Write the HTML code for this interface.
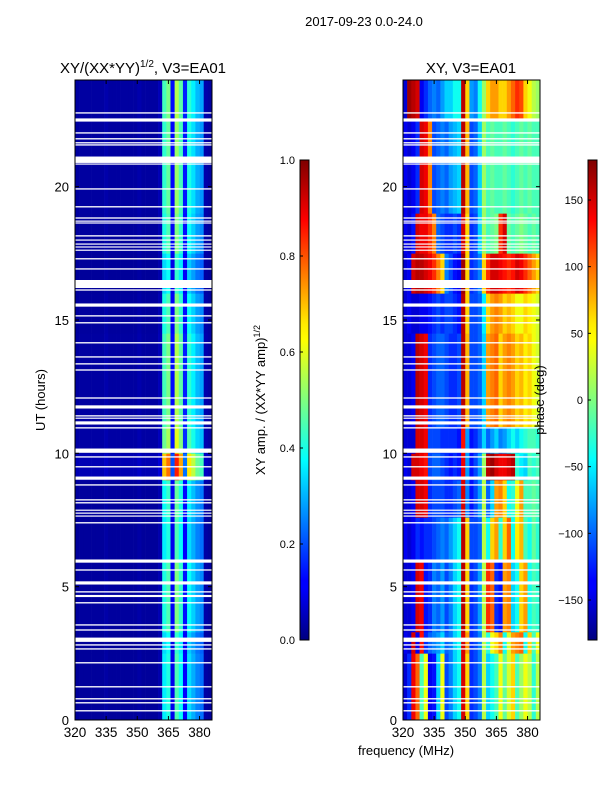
<!DOCTYPE html>
<html><head><meta charset="utf-8"><style>
body{margin:0;background:#fff;}
svg text{font-family:"Liberation Sans",sans-serif;fill:#000;}
</style></head><body>
<svg id="fig" width="600" height="800" xmlns="http://www.w3.org/2000/svg">
<defs>
<linearGradient id="jet" x1="0" y1="1" x2="0" y2="0">
<stop offset="0" stop-color="#00007f"/><stop offset="0.11" stop-color="#0000ff"/><stop offset="0.125" stop-color="#0000ff"/>
<stop offset="0.34" stop-color="#00dcff"/><stop offset="0.375" stop-color="#00ffff"/><stop offset="0.5" stop-color="#7fff7f"/>
<stop offset="0.625" stop-color="#ffff00"/><stop offset="0.66" stop-color="#ffea00"/><stop offset="0.875" stop-color="#ff0000"/><stop offset="1" stop-color="#7f0000"/>
</linearGradient>
</defs>
<text x="364" y="26" font-size="13" text-anchor="middle">2017-09-23 0.0-24.0</text>
<text x="143" y="73" font-size="15" text-anchor="middle">XY/(XX*YY)<tspan font-size="10" dy="-6">1/2</tspan><tspan dy="6">, V3=EA01</tspan></text>
<text x="471" y="73" font-size="15" text-anchor="middle">XY, V3=EA01</text>
<text transform="translate(45,400) rotate(-90)" font-size="13" text-anchor="middle">UT (hours)</text>
<text x="406" y="755" font-size="13" text-anchor="middle">frequency (MHz)</text>
<text transform="translate(265,400) rotate(-90)" font-size="13" text-anchor="middle">XY amp. / (XX*YY amp)<tspan font-size="9" dy="-5">1/2</tspan></text>
<g id="amp"></g>
<g id="ph"></g>
<g id="axes"></g>
<text transform="translate(544,400) rotate(-90)" font-size="13" text-anchor="middle">phase (deg)</text>
</svg>
<script>
// frequency bins (MHz, 2 MHz wide starting 320)
const freqBins=[320,322,324,326,328,330,332,334,336,338,340,342,344,346,348,350,352,354,356,358,360,362,364,366,368,370,372,374,376,378,380,382,384];
// time segments (hours)
const segStart=[0,2.5,3.3,6,7.6,9,10,11,14.5,16,17.5,19,22.5];
const segEnd=[2.5,3.3,6,7.6,9,10,11,14.5,16,17.5,19,22.5,24];
// amplitude frequency profile
const ampProfile=[0.03,0.03,0.03,0.03,0.03,0.03,0.03,0.04,0.03,0.03,0.03,0.03,0.03,0.03,0.03,0.04,0.03,0.03,0.03,0.03,0.05,0.4,0.45,0.12,0.5,0.42,0.14,0.38,0.33,0.28,0.26,0.04,0.03];
// amplitude time factor per segment
const ampSeg=[0.9,0.85,1.0,0.9,0.95,1.7,1.2,1.1,1.0,0.85,1.0,1.05,1.1];
// phase (deg) per segment per freq bin
const phaseSeg=[
[-150,-120,140,100,-20,40,-140,-130,-60,40,-110,-90,-60,-40,150,60,-120,-110,-90,20,-60,-40,-20,40,-10,30,60,-20,10,40,20,-30,20],
[-140,-150,150,-140,130,-120,-100,-90,-80,-60,-100,-90,-60,-40,150,80,-120,-110,-90,20,-30,40,60,90,-40,30,80,90,100,-40,60,-20,40],
[-150,-150,-140,150,140,-130,-120,-90,-100,-80,-110,-90,-60,-40,160,60,-120,-110,-80,20,120,100,-120,-130,80,90,-60,-40,60,80,-40,-20,-30],
[-140,-150,-140,-120,-130,-120,-120,-110,-100,-90,-100,-80,-60,-40,160,60,-110,-110,-100,20,-40,60,80,-30,60,100,-40,50,70,-20,-40,-10,-30],
[-150,-150,-140,150,150,140,-120,-110,-110,-110,-120,-120,-110,-100,150,-90,-130,-110,-80,20,-100,-60,80,90,60,-40,-30,40,80,-20,-20,-10,-20],
[-140,-150,150,150,140,130,-110,-100,-100,-110,-120,-130,-120,-130,140,-80,-130,-110,-80,10,160,170,150,140,140,150,160,-30,-50,-60,-20,-30,-20],
[-150,-150,-150,150,150,140,-110,-110,-110,-120,-120,-120,-120,-130,130,-80,-130,-120,-100,-60,-100,-80,-60,-90,-80,-60,-40,-60,-40,-30,-20,-20,-30],
[-150,-150,-140,160,150,140,-120,-110,-100,-100,-110,-120,-120,-110,160,70,-110,-110,-100,-60,80,90,100,60,80,90,80,60,70,50,60,40,30],
[-150,-140,-150,-150,-140,-140,-130,-120,-110,-120,-110,-110,-120,-130,160,60,-110,-110,-100,-50,60,80,90,80,60,70,60,40,40,60,50,40,30],
[-150,-140,150,160,160,150,140,120,90,60,-90,-110,-130,-140,170,60,-120,-110,-90,60,120,150,150,140,130,120,130,150,140,120,100,80,60],
[-140,-150,-130,150,140,140,120,90,-100,-110,-120,-120,-110,-120,150,60,-120,-110,-60,10,-20,-10,0,120,150,-10,-20,-10,0,-10,-20,-10,-20],
[-140,-150,-140,-120,150,140,90,-110,-100,-90,-100,-80,-70,-60,160,70,-110,-100,-60,10,-20,-10,-20,-20,-10,-20,-30,-20,-10,-20,-10,-20,-20],
[-150,170,160,150,-140,-120,-100,-90,-100,-80,-60,-60,-40,-40,160,60,-80,-90,-40,10,60,80,80,60,60,80,100,120,110,60,40,20,10]
];
// data gaps (hours, duration)
const gapStart=[22.74,22.44,21.99,21.77,21.62,21.54,20.89,20.83,19.89,19.22,18.8,18.69,18.62,18.13,17.98,17.83,17.72,17.6,17.27,16.89,16.2,16.1,15.5,15.13,14.87,14.12,13.59,13.33,13.1,12.05,11.68,11.38,11.3,11.08,10.93,10.02,9.84,9.47,9.01,8.79,8.23,8.12,7.85,7.74,7.63,7.37,5.9,5.6,5.08,4.78,4.61,4.37,3.54,3.35,2.93,2.79,2.64,2.12,1.22,0.77,0.62,0.32];
const gapDur=[0.05,0.12,0.05,0.05,0.05,0.05,0.24,0.04,0.05,0.05,0.05,0.04,0.04,0.05,0.04,0.04,0.04,0.04,0.05,0.05,0.3,0.05,0.12,0.05,0.05,0.05,0.05,0.05,0.05,0.05,0.12,0.05,0.04,0.12,0.05,0.16,0.05,0.05,0.12,0.05,0.05,0.05,0.04,0.04,0.04,0.05,0.12,0.05,0.12,0.05,0.08,0.05,0.05,0.05,0.16,0.05,0.05,0.05,0.05,0.05,0.05,0.05];
const hourTicks=[0,5,10,15,20];
const freqTicks=[320,335,350,365,380];
const ampTicks=[0.0,0.2,0.4,0.6,0.8,1.0];
const phaseTicks=[-150,-100,-50,0,50,100,150];

const NS="http://www.w3.org/2000/svg";
function mk(tag,attrs,parent){const e=document.createElementNS(NS,tag);for(const k in attrs)e.setAttribute(k,attrs[k]);parent.appendChild(e);return e;}
function jet(v){v=Math.max(0,Math.min(1,v));
 const r=Math.max(0,Math.min(1,1.5-Math.abs(4*v-3)));
 const g=Math.max(0,Math.min(1,1.5-Math.abs(4*v-2)));
 const b=Math.max(0,Math.min(1,1.5-Math.abs(4*v-1)));
 return `rgb(${Math.round(r*255)},${Math.round(g*255)},${Math.round(b*255)})`;}
const yTop=80,yBot=720;
function yScale(h){return yBot-(h/24)*(yBot-yTop);}
function xScaleFor(x0,x1){return f=>x0+(f-320)/(386-320)*(x1-x0);}
const panels=[{g:'amp',x0:75,x1:212},{g:'ph',x0:403,x1:540}];
panels.forEach((p,pi)=>{
 const g=document.getElementById(p.g);const xs=xScaleFor(p.x0,p.x1);
 for(let s=0;s<segStart.length;s++){
  for(let k=0;k<freqBins.length;k++){
   const v=pi===0?ampProfile[k]*ampSeg[s]:(phaseSeg[s][k]+180)/360;
   const xa=xs(freqBins[k]),xb=Math.min(xs(freqBins[k]+2),p.x1);
   const r=mk('rect',{x:xa,y:yScale(segEnd[s]),width:Math.max(0,xb-xa)+0.3,height:yScale(segStart[s])-yScale(segEnd[s])+0.3,fill:jet(v)},g);
   
   
  }
 }
 for(let i=0;i<gapStart.length;i++){
  const r=mk('rect',{x:p.x0,y:yScale(gapStart[i]+gapDur[i]),width:p.x1-p.x0,height:Math.max(1.2,yScale(gapStart[i])-yScale(gapStart[i]+gapDur[i])),fill:'#fff'},g);
  
  
 }
 const ax=document.getElementById('axes');
 const fr=mk('rect',{x:p.x0,y:yTop,width:p.x1-p.x0,height:yBot-yTop,fill:'none',stroke:'#000','stroke-width':1},ax);
 
 
 hourTicks.forEach(h=>{const y=yScale(h);
  mk('line',{x1:p.x0,x2:p.x0+4,y1:y,y2:y,stroke:'#000'},ax);
  mk('line',{x1:p.x1,x2:p.x1-4,y1:y,y2:y,stroke:'#000'},ax);
  const t=mk('text',{x:p.x0-6,y:y+5,'font-size':13,'text-anchor':'end'},ax);t.textContent=h;
  
  
 });
 freqTicks.forEach(f=>{const x=xs(f);
  mk('line',{x1:x,x2:x,y1:yBot,y2:yBot-4,stroke:'#000'},ax);
  mk('line',{x1:x,x2:x,y1:yTop,y2:yTop+4,stroke:'#000'},ax);
  const t=mk('text',{x:x,y:yBot+17,'font-size':13.5,'text-anchor':'middle'},ax);t.textContent=f;
  
  
 });
});
// colorbars
const ax=document.getElementById('axes');
[{x:300,ticks:ampTicks,lo:0,hi:1,fmt:v=>v.toFixed(1),n:'amp-colorbar'},{x:588,ticks:phaseTicks,lo:-180,hi:180,fmt:v=>v<0?'\u2212'+(-v):''+v,n:'phase-colorbar'}].forEach(c=>{
 const r=mk('rect',{x:c.x,y:160,width:9,height:480,fill:'url(#jet)',stroke:'#000','stroke-width':1},ax);
 
 
 c.ticks.forEach(v=>{const y=640-(v-c.lo)/(c.hi-c.lo)*480;
  mk('line',{x1:c.x,x2:c.x+3,y1:y,y2:y,stroke:'#000'},ax);
  const t=mk('text',{x:c.x-5,y:y+4,'font-size':11,'text-anchor':'end'},ax);t.textContent=c.fmt(v);
  
  
 });
});
</script>
</body></html>
